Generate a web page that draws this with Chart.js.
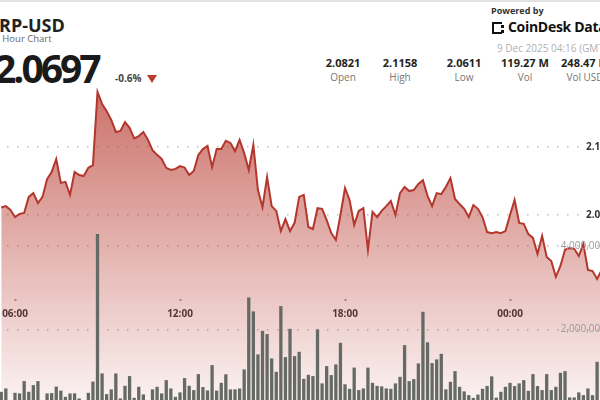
<!DOCTYPE html>
<html>
<head>
<meta charset="utf-8">
<script src="https://cdn.jsdelivr.net/npm/chart.js@4.4.1/dist/chart.umd.min.js"></script>
<style>
  html, body { margin: 0; padding: 0; }
  body { width: 600px; height: 400px; overflow: hidden; position: relative; background: #fff; font-family: 'Open Sans', sans-serif; }
  .t { position: absolute; white-space: nowrap; line-height: 1; }
  .col { position: absolute; width: 70px; text-align: center; white-space: nowrap; line-height: 1; }
  #topline { position: absolute; left: 0; top: 0; width: 600px; height: 2px; background: #e2e2e2; }
  #wrap { position: absolute; left: -13px; top: 80px; width: 619px; height: 333px; }
</style>
</head>
<body>
<div id="topline"></div>

<div class="t" style="left:-13px;top:16px;font-size:18px;font-weight:700;color:#222;">XRP-USD</div>
<div class="t" style="left:-11px;top:34px;font-size:9.5px;color:#666;">24 Hour Chart</div>
<div class="t" style="left:-6px;top:48px;font-size:39px;font-weight:700;color:#1a1a1a;letter-spacing:-3px;">2.0697</div>
<div class="t" style="left:115px;top:73px;font-size:10px;font-weight:700;color:#444;">-0.6%</div>
<div style="position:absolute;left:147px;top:75px;width:0;height:0;border-left:5px solid transparent;border-right:5px solid transparent;border-top:8px solid #c0392b;"></div>

<div class="t" style="left:491px;top:6px;font-size:9px;font-weight:700;color:#333;">Powered by</div>
<div style="position:absolute;left:492px;top:22px;width:8px;height:8px;border:2px solid #111;border-right:none;"></div>
<div style="position:absolute;left:501px;top:25px;width:3px;height:3px;background:#111;"></div>
<div style="position:absolute;left:501px;top:30px;width:3px;height:3px;background:#111;"></div>
<div class="t" style="left:508px;top:20px;font-size:14px;font-weight:700;color:#111;letter-spacing:-0.3px;">CoinDesk Data</div>
<div class="t" style="left:497px;top:42.5px;font-size:10px;color:#b0b0b0;">9 Dec 2025 04:16 (GMT)</div>

<div class="col" style="left:308px;top:57px;font-size:11px;font-weight:700;color:#222;">2.0821</div>
<div class="col" style="left:365px;top:57px;font-size:11px;font-weight:700;color:#222;">2.1158</div>
<div class="col" style="left:429px;top:57px;font-size:11px;font-weight:700;color:#222;">2.0611</div>
<div class="col" style="left:490px;top:57px;font-size:11px;font-weight:700;color:#222;">119.27 M</div>
<div class="col" style="left:550px;top:57px;font-size:11px;font-weight:700;color:#222;">248.47 M</div>
<div class="col" style="left:308px;top:72px;font-size:10px;color:#777;">Open</div>
<div class="col" style="left:365px;top:72px;font-size:10px;color:#777;">High</div>
<div class="col" style="left:429px;top:72px;font-size:10px;color:#777;">Low</div>
<div class="col" style="left:490px;top:72px;font-size:10px;color:#777;">Vol</div>
<div class="col" style="left:550px;top:72px;font-size:10px;color:#777;">Vol USD</div>

<div id="wrap"><canvas id="myChart"></canvas></div>

<script>
// 10-minute slots, 05:30 -> 03:20 (next day)
const times = [];
for (let n = 0, m = 5 * 60 + 30; n < 132; n++, m += 10) {
    const mm = m % 1440;
    times.push(String(Math.floor(mm / 60)).padStart(2, '0') + ':' + String(mm % 60).padStart(2, '0'));
}

const tickLabels = ['06:00', '12:00', '18:00', '00:00'];
const priceTicks = [2.08, 2.10];
const volumeTicks = [2000000, 4000000];

const prices = [
    2.0822, 2.0826, 2.0815, 2.0794, 2.0803, 2.0806, 2.0853, 2.0864, 2.0835, 2.0853,
    2.0905, 2.0926, 2.0964, 2.0894, 2.0897, 2.0859, 2.0926, 2.0917, 2.0914, 2.0938,
    2.0946, 2.1160, 2.1125, 2.1104, 2.1078, 2.1043, 2.1046, 2.1072, 2.1055, 2.1024,
    2.1031, 2.1043, 2.1020, 2.0990, 2.0976, 2.0964, 2.0938, 2.0932, 2.0935, 2.0943,
    2.0939, 2.0917, 2.0929, 2.0976, 2.0993, 2.1002, 2.0940, 2.0993, 2.0993, 2.1017,
    2.1011, 2.0987, 2.1020, 2.0981, 2.0932, 2.1005, 2.0873, 2.0823, 2.0911, 2.0826,
    2.0812, 2.0753, 2.0788, 2.0753, 2.0777, 2.0853, 2.0859, 2.0765, 2.0759, 2.0820,
    2.0818, 2.0785, 2.0747, 2.0727, 2.0800, 2.0879, 2.0844, 2.0771, 2.0812, 2.0820,
    2.0698, 2.0809, 2.0794, 2.0812, 2.0826, 2.0841, 2.0800, 2.0864, 2.0882, 2.0870,
    2.0873, 2.0891, 2.0902, 2.0856, 2.0826, 2.0864, 2.0861, 2.0882, 2.0908, 2.0847,
    2.0832, 2.0818, 2.0794, 2.0829, 2.0818, 2.0794, 2.0750, 2.0747, 2.0750, 2.0747,
    2.0753, 2.0800, 2.0844, 2.0777, 2.0774, 2.0744, 2.0733, 2.0686, 2.0739, 2.0677,
    2.0665, 2.0619, 2.0651, 2.0698, 2.0703, 2.0701, 2.0680, 2.0715, 2.0639, 2.0636,
    2.0613, 2.0639
];

const volumes = [
    507000, 588000, 250000, 483000, 469000, 763000, 507000, 667000, 763000, 250000,
    469000, 476000, 632000, 536000, 388000, 469000, 469000, 349000, 309000, 483000,
    751000, 4280000, 947000, 452000, 565000, 947000, 349000, 651000, 883000, 364000,
    627000, 445000, 309000, 565000, 627000, 469000, 787000, 588000, 388000, 493000,
    835000, 651000, 548000, 931000, 620000, 541000, 1146000, 536000, 722000, 926000,
    565000, 565000, 588000, 1043000, 2766000, 2431000, 1402000, 1966000, 1888000, 1306000,
    986000, 2557000, 1337000, 2014000, 1361000, 1464000, 818000, 914000, 883000, 2000000,
    708000, 1122000, 907000, 1163000, 1679000, 687000, 579000, 1086000, 548000, 588000,
    1086000, 722000, 648000, 636000, 588000, 579000, 708000, 866000, 1624000, 763000,
    811000, 1187000, 2421000, 1691000, 1194000, 1282000, 1416000, 565000, 746000, 1002000,
    627000, 517000, 428000, 361000, 440000, 579000, 648000, 876000, 368000, 507000,
    627000, 722000, 644000, 708000, 787000, 531000, 931000, 644000, 548000, 931000,
    548000, 627000, 962000, 1002000, 373000, 373000, 493000, 428000, 588000, 428000,
    1225000, 700000
];

const ctx = document.getElementById('myChart').getContext('2d');
const noPad = (s) => { s.paddingTop = 0; s.paddingBottom = 0; s.paddingLeft = 0; s.paddingRight = 0; };

const dotted = { display: false, dash: [1.5, 8.5] };

let myChart = new Chart(ctx, {
    type: 'bar',
    data: {
        datasets: [{
            type: 'line',
            label: 'XRP-USD',
            data: prices.map((p, i) => ({ x: i, y: p })),
            yAxisID: 'yPrice',
            borderColor: '#b3372d',
            borderWidth: 2,
            pointRadius: 0,
            tension: 0,
            fill: 'start',
            backgroundColor: (c) => {
                const area = c.chart.chartArea;
                if (!area) return 'rgba(185,60,50,0.3)';
                const g = c.chart.ctx.createLinearGradient(0, area.top, 0, area.bottom);
                g.addColorStop(0, 'rgba(185,60,50,0.75)');
                g.addColorStop(1, 'rgba(185,60,50,0.04)');
                return g;
            },
            order: 2
        }, {
            label: 'Volume',
            data: volumes.map((v, i) => ({ x: i, y: v })),
            yAxisID: 'yVol',
            backgroundColor: '#666a66',
            barPercentage: 1,
            categoryPercentage: 0.72,
            order: 1
        }]
    },
    options: {
        responsive: true,
        maintainAspectRatio: false,
        animation: false,
        layout: { padding: 0, autoPadding: false },
        plugins: { legend: { display: false }, tooltip: { enabled: false } },
        scales: {
            x: {
                type: 'linear',
                offset: false,
                min: -3.109,
                max: 131.94,
                position: { yVol: 2725000 },
                afterBuildTicks: (s) => { s.ticks = tickLabels.map(t => ({ value: times.indexOf(t) })); },
                afterFit: noPad,
                grid: { drawOnChartArea: false, offset: false, tickLength: 2, tickWidth: 2, tickColor: '#999' },
                border: { display: false },
                ticks: {
                    autoSkip: false,
                    maxRotation: 0,
                    padding: 7,
                    color: '#333',
                    font: { family: 'Open Sans', size: 10, weight: 'bold' },
                    callback: (v) => times[v]
                }
            },
            yPrice: {
                type: 'linear',
                position: 'right',
                min: 2.02205,
                max: 2.11951,
                afterBuildTicks: (s) => { s.ticks = priceTicks.map(v => ({ value: v })); },
                afterFit: noPad,
                grid: { color: '#bdbdbd', lineWidth: 1.5, drawTicks: false },
                border: dotted,
                ticks: {
                    mirror: true,
                    padding: 0,
                    color: '#333',
                    font: { family: 'Open Sans', size: 10, weight: 'bold' },
                    showLabelBackdrop: true,
                    backdropColor: '#fff',
                    backdropPadding: { left: 5, right: 0, top: 1, bottom: 1 },
                    callback: (v) => v.toFixed(2)
                }
            },
            yVol: {
                type: 'linear',
                position: 'right',
                min: 0,
                max: 7966000,
                afterBuildTicks: (s) => { s.ticks = volumeTicks.map(v => ({ value: v })); },
                afterFit: noPad,
                grid: { color: '#bdbdbd', lineWidth: 1.5, drawTicks: false },
                border: dotted,
                ticks: {
                    mirror: true,
                    padding: 0,
                    z: 1,
                    color: '#999',
                    font: { family: 'Open Sans', size: 10 },
                    callback: (v) => v.toLocaleString('en-US')
                }
            }
        }
    }
});
</script>
</body>
</html>
